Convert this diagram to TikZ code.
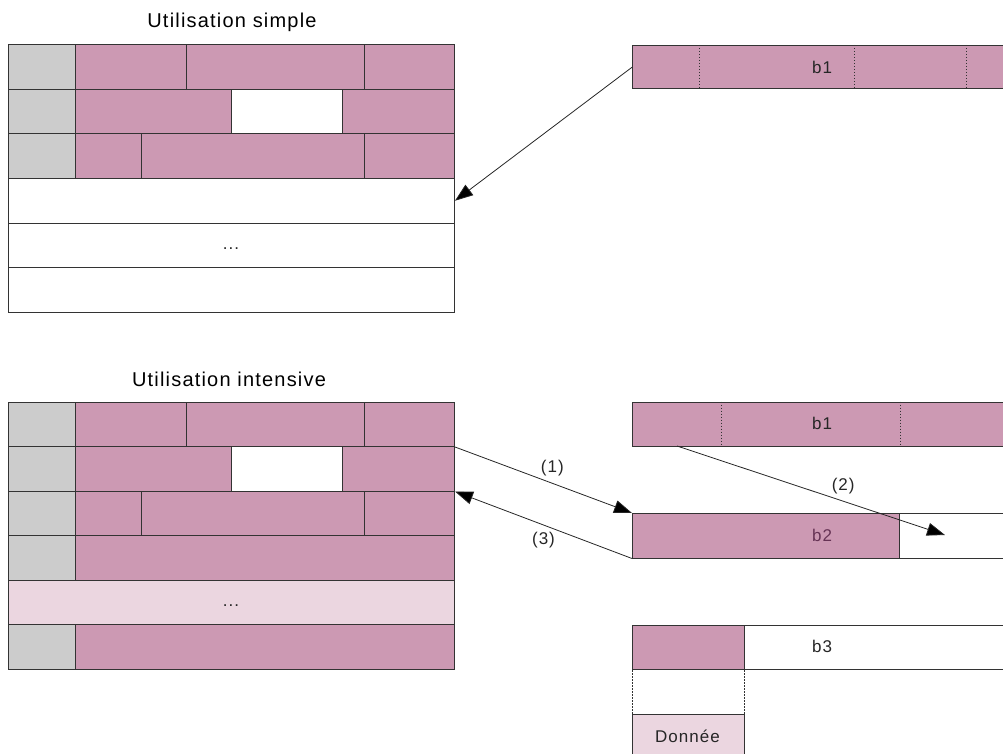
\documentclass[tikz,border=0pt]{standalone}
\usepackage{fontspec}
\setmainfont{Liberation Sans}[LetterSpace=6]
\usetikzlibrary{arrows.meta}
\definecolor{pk}{HTML}{CC99B3}
\definecolor{gy}{HTML}{CCCCCC}
\definecolor{lp}{HTML}{EBD6E0}
\definecolor{ln}{HTML}{333333}
\definecolor{bt}{HTML}{663355}
\tikzset{
  cell/.style={draw=ln, line width=1pt, inner sep=0pt, anchor=north west, minimum height=44.5pt},
  lbl/.style={font=\fontsize{17}{20}\selectfont, text=black!85, inner sep=1pt},
  ttl/.style={font=\fontsize{20}{24}\selectfont, text=black},
  dv/.style={draw=ln, line width=1pt, dash pattern=on 1.5pt off 1.5pt},
  arr/.style={draw=black!85, line width=0.8pt, -{Triangle[length=18pt,width=13pt,fill=black]}}
}
\begin{document}
\begin{tikzpicture}[x=1pt,y=-1pt]
\useasboundingbox (0,0) rectangle (1003,754);
% titles
\node[ttl] (t1) at (232,22) {Utilisation simple};
\node[ttl] (t2) at (229,379) {Utilisation intensive};
% common top three rows of both grids
\foreach \g/\y in {s/44.5, i/401.5}{
  \pgfmathsetmacro{\ya}{\y}
  \pgfmathsetmacro{\yb}{\y+44.5}
  \pgfmathsetmacro{\yc}{\y+89}
  \node[cell, fill=gy, minimum width=67pt] (\g10) at (8,\ya) {};
  \node[cell, fill=pk, minimum width=111pt] (\g11) at (75,\ya) {};
  \node[cell, fill=pk, minimum width=178pt] (\g12) at (186,\ya) {};
  \node[cell, fill=pk, minimum width=90pt] (\g13) at (364,\ya) {};
  \node[cell, fill=gy, minimum width=67pt] (\g20) at (8,\yb) {};
  \node[cell, fill=pk, minimum width=156pt] (\g21) at (75,\yb) {};
  \node[cell, fill=white, minimum width=111pt] (\g22) at (231,\yb) {};
  \node[cell, fill=pk, minimum width=112pt] (\g23) at (342,\yb) {};
  \node[cell, fill=gy, minimum width=67pt] (\g30) at (8,\yc) {};
  \node[cell, fill=pk, minimum width=66pt] (\g31) at (75,\yc) {};
  \node[cell, fill=pk, minimum width=223pt] (\g32) at (141,\yc) {};
  \node[cell, fill=pk, minimum width=90pt] (\g33) at (364,\yc) {};
}
% simple grid lower rows
\node[cell, fill=white, minimum width=446pt] (s4) at (8,178) {};
\node[cell, fill=white, minimum width=446pt] (s5) at (8,222.5) {};
\node[cell, fill=white, minimum width=446pt] (s6) at (8,267) {};
\node[lbl] (sdots) at (231,249) {...};
% intensive grid lower rows
\node[cell, fill=gy, minimum width=67pt] (i40) at (8,535) {};
\node[cell, fill=pk, minimum width=379pt] (i41) at (75,535) {};
\node[cell, fill=lp, minimum width=446pt] (i5) at (8,579.5) {};
\node[lbl] (idots) at (231,606) {...};
\node[cell, fill=gy, minimum width=67pt] (i60) at (8,624) {};
\node[cell, fill=pk, minimum width=379pt] (i61) at (75,624) {};
% right side, top b1
\node[cell, fill=pk, minimum width=380pt, minimum height=43.5pt] (ba) at (632,45) {};
\draw[dv] (699,45) -- (699,88.5);
\draw[dv] (854,45) -- (854,88.5);
\draw[dv] (966,45) -- (966,88.5);
\node[lbl] (bal) at (822,67) {b1};
% right side, lower b1
\node[cell, fill=pk, minimum width=380pt] (bb) at (632,401.5) {};
\draw[dv] (721,401.5) -- (721,446);
\draw[dv] (900,401.5) -- (900,446);
\node[lbl] (bbl) at (822,423.5) {b1};
% b2
\node[cell, fill=white, minimum width=380pt] (bcw) at (632,513) {};
\node[cell, fill=pk, minimum width=267pt] (bc) at (632,513) {};
\node[lbl, text=bt] (bcl) at (822,535.5) {b2};
% b3
\node[cell, fill=white, minimum width=380pt] (bdw) at (632,624.5) {};
\node[cell, fill=pk, minimum width=111.5pt] (bd) at (632,624.5) {};
\node[lbl] (bdl) at (822,646.5) {b3};
% data
\node[cell, fill=lp, minimum width=111.5pt, minimum height=50pt] (dn) at (632,714) {};
\node[lbl] (dnl) at (687.5,736) {Donnée};
\draw[dv] (bd.south west) -- (dn.north west);
\draw[dv] (bd.south east) -- (dn.north east);
% arrows
\draw[arr] (ba.west) -- (s4.east);
\draw[arr] (i13.south east) -- node[lbl, pos=0.55, above=6pt] {(1)} (bc.north west);
\draw[arr] (bc.south west) -- node[lbl, pos=0.5, below=6pt] {(3)} (i23.south east);
\coordinate (p2s) at (677,446);
\coordinate (p2e) at (945,535);
\draw[arr] (p2s) -- node[lbl, pos=0.62, above=6pt] {(2)} (p2e);
\end{tikzpicture}
\end{document}
